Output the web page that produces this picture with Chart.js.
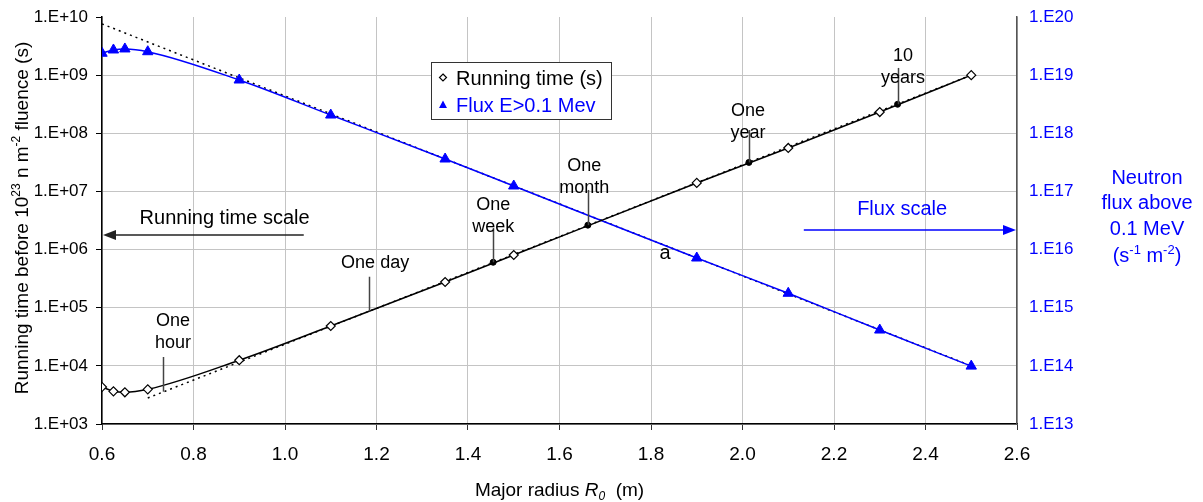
<!DOCTYPE html>
<html>
<head>
<meta charset="utf-8">
<script src="https://cdn.jsdelivr.net/npm/chart.js@4.4.1/dist/chart.umd.min.js"></script>
<style>
  html, body { margin: 0; padding: 0; background: #fff; }
  #chartBox { width: 1203px; height: 502px; }
</style>
</head>
<body>
<div id="chartBox"><canvas id="radiusChart" width="1203" height="502"></canvas></div>
<script>
// Major radius R0 (m)
const radius = [0.6, 0.625, 0.65, 0.7, 0.9, 1.1, 1.35, 1.5, 1.9, 2.1, 2.3, 2.5];
// Running time before 1e23 n m-2 fluence (s)
const runningTime = [4330, 3650, 3510, 3950, 12500, 48500, 277000, 807000, 1.40e7, 5.59e7, 2.32e8, 1.0e9];
// Neutron flux above 0.1 MeV (s-1 m-2)
const flux = [2.38e19, 2.71e19, 2.82e19, 2.53e19, 8.25e18, 2.06e18, 3.61e17, 1.24e17, 7.16e15, 1.77e15, 4.13e14, 9.9e13];

// dotted straight-line asymptotes
const fluxFitRadius = [0.6, 2.5];
const fluxFit = [7.6e19, 1.0e14];
const timeFitRadius = [0.7, 2.5];
const timeFit = [2800, 1.0e9];

// milestone dots on the running time curve
const milestoneRadius = [1.455, 1.662, 2.014, 2.339];
const milestoneTime = [604800, 2629800, 31557600, 315576000];

// ticks
const xTicks = [0.6, 0.8, 1.0, 1.2, 1.4, 1.6, 1.8, 2.0, 2.2, 2.4, 2.6];
const timeDecades = [1e3, 1e4, 1e5, 1e6, 1e7, 1e8, 1e9, 1e10];
const fluxDecades = [1e13, 1e14, 1e15, 1e16, 1e17, 1e18, 1e19, 1e20];

// milestone labels (data coordinates: radius, seconds)
const milestones = [
    { text: ['One', 'hour'], r: 0.733, tBottom: 3600, tTop: 1.42e4, labelR: 0.755, labelT: 2.6e4 },
    { text: ['One day'], r: 1.184, tBottom: 86400, tTop: 3.41e5, labelR: 1.197, labelT: 6.11e5 },
    { text: ['One', 'week'], r: 1.455, tBottom: 604800, tTop: 2.35e6, labelR: 1.455, labelT: 2.55e6 },
    { text: ['One', 'month'], r: 1.662, tBottom: 2629800, tTop: 1.06e7, labelR: 1.654, labelT: 1.21e7 },
    { text: ['One', 'year'], r: 2.014, tBottom: 31557600, tTop: 1.14e8, labelR: 2.012, labelT: 1.07e8 },
    { text: ['10', 'years'], r: 2.339, tBottom: 315576000, tTop: 1.33e9, labelR: 2.351, labelT: 9.42e8 }
];

const FONT = '"Liberation Sans", Arial, Helvetica, sans-serif';
const BLUE = '#0000ff';

function pairs(xs, ys) {
    return xs.map((v, i) => ({ x: v, y: ys[i] }));
}

function fontFor(p, size) {
    const s = (p.sup || p.sub) ? Math.round(size * 0.65) : size;
    return (p.it ? 'italic ' : '') + s + 'px ' + FONT;
}

// texto con superindices / subindices, centrado en (cx, cy)
function drawRich(ctx, parts, cx, cy, size, color) {
    let total = 0;
    parts.forEach(p => {
        ctx.font = fontFor(p, size);
        total += ctx.measureText(p.t).width;
    });
    let x = cx - total / 2;
    ctx.fillStyle = color;
    ctx.textAlign = 'left';
    ctx.textBaseline = 'alphabetic';
    const base = cy + size * 0.36;
    parts.forEach(p => {
        ctx.font = fontFor(p, size);
        let dy = 0;
        if (p.sup) dy = -size * 0.42;
        if (p.sub) dy = size * 0.22;
        ctx.fillText(p.t, x, base + dy);
        x += ctx.measureText(p.t).width;
    });
}

function arrow(ctx, x1, x2, yy, color) {
    const dir = Math.sign(x2 - x1);
    ctx.strokeStyle = color;
    ctx.fillStyle = color;
    ctx.lineWidth = 1.5;
    ctx.beginPath();
    ctx.moveTo(x1, yy);
    ctx.lineTo(x2 - dir * 10, yy);
    ctx.stroke();
    ctx.beginPath();
    ctx.moveTo(x2, yy);
    ctx.lineTo(x2 - dir * 13, yy - 5);
    ctx.lineTo(x2 - dir * 13, yy + 5);
    ctx.closePath();
    ctx.fill();
}

// quitar el margen automatico de las etiquetas para fijar el area del grafico
function noPadding(s) {
    s.paddingTop = 0;
    s.paddingBottom = 0;
    s.paddingLeft = 0;
    s.paddingRight = 0;
}

const extrasPlugin = {
    id: 'extras',
    afterDatasetsDraw(chart) {
        const { ctx } = chart;
        const { x, y, y2 } = chart.scales;
        ctx.save();

        // marcas de tiempo
        milestones.forEach(m => {
            const px = Math.round(x.getPixelForValue(m.r)) + 0.5;
            ctx.strokeStyle = '#444';
            ctx.lineWidth = 1.5;
            ctx.beginPath();
            ctx.moveTo(px, y.getPixelForValue(m.tBottom));
            ctx.lineTo(px, y.getPixelForValue(m.tTop));
            ctx.stroke();
            const lx = x.getPixelForValue(m.labelR);
            const ly = y.getPixelForValue(m.labelT);
            m.text.forEach((line, i) => {
                drawRich(ctx, [{ t: line }], lx, ly - (m.text.length - 1 - i) * 22, 18, '#000');
            });
        });

        // flechas de escala
        drawRich(ctx, [{ t: 'Running time scale' }], x.getPixelForValue(0.868), y.getPixelForValue(3.68e6), 20, '#000');
        arrow(ctx, x.getPixelForValue(1.041), x.getPixelForValue(0.6) + 1, y.getPixelForValue(1.78e6), '#222');
        drawRich(ctx, [{ t: 'Flux scale' }], x.getPixelForValue(2.349), y2.getPixelForValue(5.27e16), 20, BLUE);
        arrow(ctx, x.getPixelForValue(2.134), x.getPixelForValue(2.6) - 1, y2.getPixelForValue(2.17e16), BLUE);
        drawRich(ctx, [{ t: 'a' }], x.getPixelForValue(1.831), y.getPixelForValue(9.2e5), 20, '#000');

        // leyenda
        ctx.fillStyle = '#fff';
        ctx.fillRect(431.5, 62.5, 180, 57);
        ctx.strokeStyle = '#333';
        ctx.lineWidth = 1;
        ctx.strokeRect(431.5, 62.5, 180, 57);
        ctx.beginPath();
        ctx.moveTo(443, 74); ctx.lineTo(446.5, 77.5); ctx.lineTo(443, 81); ctx.lineTo(439.5, 77.5); ctx.closePath();
        ctx.fillStyle = '#fff'; ctx.fill();
        ctx.strokeStyle = '#000'; ctx.lineWidth = 1.2; ctx.stroke();
        ctx.beginPath();
        ctx.moveTo(443, 100.5); ctx.lineTo(447, 108); ctx.lineTo(439, 108); ctx.closePath();
        ctx.fillStyle = BLUE; ctx.fill();
        ctx.font = '20px ' + FONT;
        ctx.textAlign = 'left';
        ctx.textBaseline = 'middle';
        ctx.fillStyle = '#000';
        ctx.fillText('Running time (s)', 456, 79);
        ctx.fillStyle = BLUE;
        ctx.fillText('Flux E>0.1 Mev', 456, 106);

        ctx.restore();
    },
    afterDraw(chart) {
        const { ctx, chartArea } = chart;
        ctx.save();
        // titulo eje x
        drawRich(ctx, [{ t: 'Major radius ' }, { t: 'R', it: 1 }, { t: '0', it: 1, sub: 1 }, { t: '  (m)' }],
            (chartArea.left + chartArea.right) / 2, 489, 19, '#000');
        // titulo eje izquierdo (rotado)
        ctx.translate(21, 218);
        ctx.rotate(-Math.PI / 2);
        drawRich(ctx, [{ t: 'Running time before 10' }, { t: '23', sup: 1 }, { t: ' n m' }, { t: '-2', sup: 1 }, { t: ' fluence (s)' }],
            0, 0, 19, '#000');
        ctx.restore();
        // titulo eje derecho
        ctx.save();
        drawRich(ctx, [{ t: 'Neutron' }], 1147, 177, 20, BLUE);
        drawRich(ctx, [{ t: 'flux above' }], 1147, 202, 20, BLUE);
        drawRich(ctx, [{ t: '0.1 MeV' }], 1147, 228, 20, BLUE);
        drawRich(ctx, [{ t: '(s' }, { t: '-1', sup: 1 }, { t: ' m' }, { t: '-2', sup: 1 }, { t: ')' }], 1147, 255, 20, BLUE);
        ctx.restore();
    }
};

const ctx = document.getElementById('radiusChart');

new Chart(ctx, {
    type: 'line',
    data: {
        datasets: [{
            label: 'Milestones',
            data: pairs(milestoneRadius, milestoneTime),
            yAxisID: 'y',
            showLine: false,
            pointStyle: 'circle',
            pointRadius: 3,
            pointBackgroundColor: '#000',
            pointBorderColor: '#000',
            order: 0
        }, {
            label: 'Running time (s)',
            data: pairs(radius, runningTime),
            yAxisID: 'y',
            borderColor: '#000',
            borderWidth: 1.5,
            cubicInterpolationMode: 'monotone',
            pointStyle: 'rectRot',
            pointRadius: 4.5,
            pointBackgroundColor: '#fff',
            pointBorderColor: '#000',
            pointBorderWidth: 1.2,
            order: 1
        }, {
            label: 'Flux E>0.1 Mev',
            data: pairs(radius, flux),
            yAxisID: 'y2',
            borderColor: BLUE,
            borderWidth: 1.5,
            cubicInterpolationMode: 'monotone',
            pointStyle: 'triangle',
            pointRadius: 6,
            pointBackgroundColor: BLUE,
            pointBorderColor: BLUE,
            pointBorderWidth: 1,
            order: 2
        }, {
            label: 'Flux fit',
            data: pairs(fluxFitRadius, fluxFit),
            yAxisID: 'y2',
            borderColor: '#000',
            borderWidth: 1.5,
            borderDash: [2, 4],
            pointRadius: 0,
            order: 3
        }, {
            label: 'Time fit',
            data: pairs(timeFitRadius, timeFit),
            yAxisID: 'y',
            borderColor: '#000',
            borderWidth: 1.5,
            borderDash: [2, 4],
            pointRadius: 0,
            order: 4
        }]
    },
    options: {
        responsive: false,
        animation: false,
        devicePixelRatio: 1,
        layout: { padding: { top: 17, left: 0, right: 0, bottom: 0 } },
        plugins: {
            legend: { display: false },
            tooltip: { enabled: false }
        },
        scales: {
            x: {
                type: 'linear',
                min: 0.6,
                max: 2.6,
                afterBuildTicks: s => { s.ticks = xTicks.map(v => ({ value: v })); },
                afterFit: s => { s.height = 78; noPadding(s); },
                ticks: {
                    callback: v => v.toFixed(1),
                    color: '#000',
                    font: { family: FONT, size: 19 },
                    padding: 13,
                    maxRotation: 0
                },
                grid: { color: '#c4c4c4', lineWidth: 1, tickColor: '#333', tickLength: 6 },
                border: { color: '#000', width: 1.5 }
            },
            y: {
                type: 'logarithmic',
                position: 'left',
                min: 1e3,
                max: 1e10,
                afterBuildTicks: s => { s.ticks = timeDecades.map(v => ({ value: v })); },
                afterFit: s => { s.width = 102; noPadding(s); },
                ticks: {
                    callback: v => '1.E+' + String(Math.round(Math.log10(v))).padStart(2, '0'),
                    color: '#000',
                    font: { family: FONT, size: 17 },
                    padding: 8
                },
                grid: {
                    color: c => (c.tick && c.tick.value === 1e10) ? 'rgba(0,0,0,0)' : '#c4c4c4',
                    lineWidth: 1,
                    tickColor: '#000',
                    tickLength: 6
                },
                border: { color: '#000', width: 1.5 }
            },
            y2: {
                type: 'logarithmic',
                position: 'right',
                min: 1e13,
                max: 1e20,
                afterBuildTicks: s => { s.ticks = fluxDecades.map(v => ({ value: v })); },
                afterFit: s => { s.width = 186; noPadding(s); },
                ticks: {
                    callback: v => '1.E' + Math.round(Math.log10(v)),
                    color: BLUE,
                    font: { family: FONT, size: 17 },
                    padding: 12
                },
                grid: { drawOnChartArea: false, drawTicks: false },
                border: { color: '#555', width: 1.5 }
            }
        }
    },
    plugins: [extrasPlugin]
});
</script>
</body>
</html>
